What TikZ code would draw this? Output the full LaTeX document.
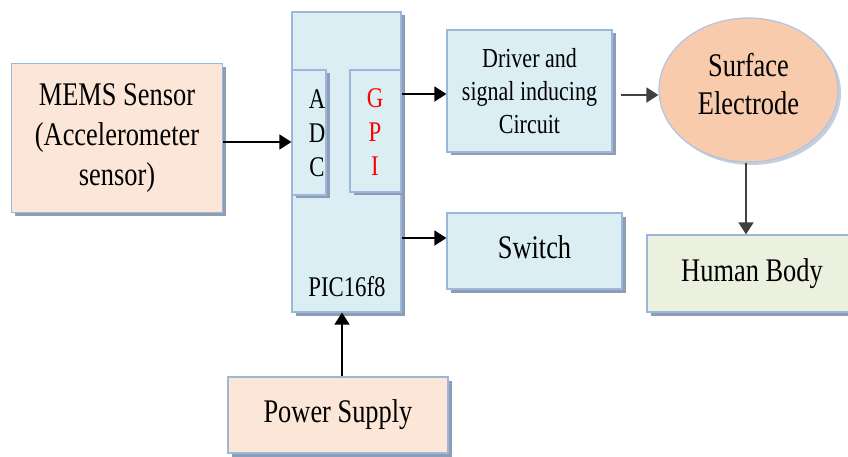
\documentclass[tikz,border=0pt]{standalone}
\usepackage{fontspec}
\setmainfont[FakeStretch=0.8]{Liberation Serif}
\usetikzlibrary{shapes.geometric,shadows,arrows.meta}
\definecolor{bfill}{HTML}{DAEEF3}
\definecolor{bline}{HTML}{9BB7D9}
\definecolor{pfill}{HTML}{FCE6D8}
\definecolor{efill}{HTML}{F8CBAD}
\definecolor{gfill}{HTML}{EBF1DE}
\definecolor{shcol}{HTML}{8E9DB5}
\tikzset{
  box/.style={draw=bline, line width=1.2pt, rectangle, inner sep=0pt, align=center,
    drop shadow={shadow xshift=3.5pt, shadow yshift=-3.5pt, fill=shcol, opacity=1}},
  bluebox/.style={box, fill=bfill},
  peachbox/.style={box, fill=pfill},
  greenbox/.style={box, fill=gfill},
  arr/.style={-{Triangle[length=12pt,width=15pt]}, line width=1.5pt, black},
  garr/.style={-{Triangle[length=12pt,width=15pt]}, line width=1.5pt, black!75},
  big/.style={font=\fontsize{33}{40}\selectfont},
  mid/.style={font=\fontsize{27.5}{33}\selectfont},
  adcf/.style={font=\fontsize{28.5}{34}\selectfont},
}
\begin{document}
\begin{tikzpicture}[x=1pt,y=-1pt]
\useasboundingbox (0,0) rectangle (848,457);
% nodes
\node[peachbox, big, minimum width=211pt, minimum height=149pt] (mems) at (117,138) {MEMS Sensor\\(Accelerometer\\sensor)};
\node[bluebox, minimum width=109pt, minimum height=300pt] (pic) at (346.5,162) {};
\node[bluebox, minimum width=34pt, minimum height=125pt] (adc) at (309,132.5) {};
\node[bluebox, minimum width=51pt, minimum height=122pt] (gpi) at (375.5,131) {};
\node[adcf, align=center] (adct) at (317,133) {A\\D\\C};
\node[adcf, align=center, text=red] (gpit) at (375,132) {G\\P\\I};
\node[adcf] (pict) at (347,287) {PIC16f8};
\node[bluebox, mid, minimum width=165pt, minimum height=122pt] (drv) at (529.5,91) {Driver and\\signal inducing\\Circuit};
\node[bluebox, big, minimum width=175pt, minimum height=76pt] (sw) at (534.5,251) {};
\node[big] (swt) at (534.5,247) {Switch};
\node[ellipse, draw=bline!80, line width=1.2pt, fill=efill, inner sep=0pt,
  minimum width=179pt, minimum height=144pt,
  drop shadow={shadow xshift=3pt, shadow yshift=-3pt, fill=shcol!50, opacity=1}] (el) at (748.5,90) {};
\node[big, align=center, font=\fontsize{33}{38}\selectfont] (elt) at (748.5,84) {Surface\\Electrode};
\node[greenbox, big, minimum width=210pt, minimum height=77pt] (hb) at (752,273.5) {Human Body};
\node[peachbox, big, minimum width=220pt, minimum height=76pt] (ps) at (338,415) {Power Supply};
% connectors
\draw[arr] ([yshift=-4pt]mems.east) -- (pic.west |- 0,142);
\draw[arr] (gpi.east |- 0,94) -- (drv.west |- 0,94);
\draw[arr] (pic.east |- 0,238) -- (sw.west |- 0,238);
\draw[garr] ([xshift=8pt,yshift=-4pt]drv.east) -- (el.west |- 0,95);
\draw[garr] (el.south -| 746,0) -- (hb.north -| 746,0);
\draw[arr] (ps.north -| 342,0) -- (pic.south -| 342,0);
\end{tikzpicture}
\end{document}
